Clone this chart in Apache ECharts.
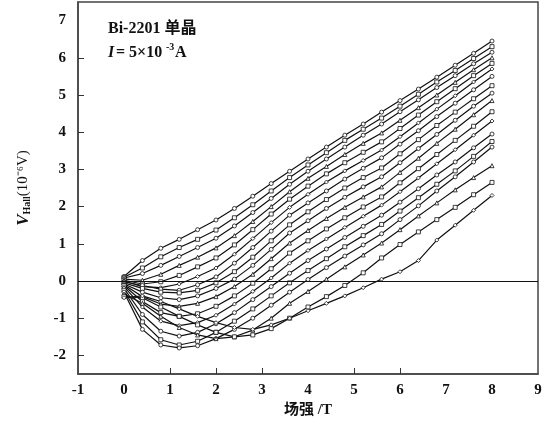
<!DOCTYPE html>
<html>
<head>
<meta charset="utf-8">
<script src="https://cdn.jsdelivr.net/npm/echarts@6/dist/echarts.min.js"></script>
<style>
  html, body { margin: 0; padding: 0; background: #fff; }
  #chart { width: 555px; height: 426px; }
</style>
</head>
<body>
<div id="chart"></div>
<script>
// Magnetic field values (T) shared by every isotherm
const fieldT = [0, 0.4, 0.8, 1.2, 1.6, 2.0, 2.4, 2.8, 3.2, 3.6, 4.0, 4.4, 4.8, 5.2, 5.6, 6.0, 6.4, 6.8, 7.2, 7.6, 8.0];

// Hall voltage (10^-6 V), one array per temperature, warmest first
const curve01 = [0.12, 0.55, 0.88, 1.12, 1.38, 1.64, 1.95, 2.28, 2.62, 2.95, 3.28, 3.60, 3.92, 4.22, 4.54, 4.85, 5.16, 5.48, 5.80, 6.12, 6.45];
const curve02 = [0.10, 0.35, 0.65, 0.90, 1.12, 1.37, 1.70, 2.05, 2.42, 2.78, 3.12, 3.45, 3.78, 4.08, 4.38, 4.70, 5.02, 5.35, 5.66, 5.98, 6.30];
const curve03 = [0.08, 0.20, 0.42, 0.66, 0.90, 1.15, 1.48, 1.84, 2.22, 2.60, 2.95, 3.28, 3.60, 3.92, 4.22, 4.55, 4.87, 5.20, 5.52, 5.84, 6.15];
const curve04 = [0.05, 0.02, 0.18, 0.42, 0.64, 0.89, 1.22, 1.60, 2.00, 2.40, 2.76, 3.08, 3.40, 3.70, 3.98, 4.32, 4.66, 5.00, 5.34, 5.68, 6.00];
const curve05 = [0.02, -0.08, -0.02, 0.15, 0.38, 0.62, 0.97, 1.38, 1.80, 2.20, 2.55, 2.88, 3.18, 3.46, 3.74, 4.10, 4.46, 4.82, 5.17, 5.52, 5.85];
const curve06 = [0.00, -0.15, -0.18, -0.08, 0.12, 0.35, 0.72, 1.14, 1.57, 1.98, 2.33, 2.66, 2.96, 3.24, 3.52, 3.88, 4.25, 4.62, 4.98, 5.35, 5.70];
const curve07 = [-0.02, -0.12, -0.22, -0.25, -0.10, 0.11, 0.48, 0.90, 1.34, 1.77, 2.10, 2.42, 2.74, 3.03, 3.31, 3.68, 4.04, 4.42, 4.78, 5.14, 5.50];
const curve08 = [-0.05, -0.20, -0.30, -0.32, -0.25, -0.05, 0.25, 0.64, 1.08, 1.51, 1.86, 2.19, 2.50, 2.78, 3.04, 3.42, 3.80, 4.18, 4.54, 4.90, 5.25];
const curve09 = [-0.08, -0.30, -0.45, -0.50, -0.40, -0.20, 0.05, 0.42, 0.85, 1.29, 1.62, 1.95, 2.25, 2.53, 2.80, 3.18, 3.56, 3.94, 4.32, 4.70, 5.05];
const curve10 = [-0.10, -0.42, -0.62, -0.68, -0.60, -0.42, -0.15, 0.18, 0.60, 1.02, 1.36, 1.68, 1.98, 2.26, 2.53, 2.92, 3.30, 3.70, 4.08, 4.47, 4.85];
const curve11 = [-0.12, -0.55, -0.85, -0.95, -0.88, -0.68, -0.40, -0.06, 0.33, 0.75, 1.08, 1.40, 1.70, 1.99, 2.26, 2.64, 3.02, 3.40, 3.78, 4.16, 4.55];
const curve12 = [-0.15, -0.70, -1.08, -1.20, -1.12, -0.92, -0.62, -0.28, 0.08, 0.48, 0.82, 1.13, 1.44, 1.74, 2.04, 2.40, 2.77, 3.15, 3.53, 3.92, 4.30];
const curve13 = [-0.20, -0.90, -1.35, -1.48, -1.38, -1.15, -0.85, -0.50, -0.15, 0.21, 0.55, 0.86, 1.17, 1.47, 1.77, 2.12, 2.48, 2.85, 3.20, 3.58, 3.95];
const curve14 = [-0.25, -1.10, -1.58, -1.72, -1.62, -1.38, -1.08, -0.75, -0.40, -0.05, 0.28, 0.60, 0.92, 1.22, 1.52, 1.88, 2.24, 2.60, 2.96, 3.35, 3.75];
const curve15 = [-0.30, -1.30, -1.72, -1.80, -1.74, -1.55, -1.30, -1.00, -0.65, -0.30, 0.04, 0.36, 0.67, 0.97, 1.27, 1.65, 2.02, 2.42, 2.80, 3.20, 3.60];
const curve16 = [-0.35, -0.60, -0.95, -1.25, -1.45, -1.55, -1.50, -1.32, -1.00, -0.60, -0.28, 0.05, 0.38, 0.70, 1.02, 1.38, 1.75, 2.10, 2.45, 2.78, 3.10];
const curve17 = [-0.42, -0.45, -0.70, -0.95, -1.18, -1.38, -1.50, -1.45, -1.28, -1.00, -0.70, -0.42, -0.12, 0.22, 0.62, 0.98, 1.32, 1.65, 1.98, 2.32, 2.65];
const curve18 = [-0.45, -0.40, -0.55, -0.75, -0.95, -1.12, -1.25, -1.30, -1.18, -1.00, -0.80, -0.60, -0.40, -0.18, 0.05, 0.25, 0.55, 1.10, 1.50, 1.90, 2.30];

const curves = [curve01, curve02, curve03, curve04, curve05, curve06, curve07, curve08, curve09,
                curve10, curve11, curve12, curve13, curve14, curve15, curve16, curve17, curve18];

// Axis tick values
const xTicks = [-1, 0, 1, 2, 3, 4, 5, 6, 7, 8, 9];
const xTickMarks = [1, 2, 3, 5, 6];
const yTicks = [-2, -1, 0, 1, 2, 3, 4, 5, 6, 7];
const yTickMarks = [-2, -1, 0, 1, 2, 3, 4, 5, 6];

const markerShapes = ['circle', 'rect', 'circle', 'triangle', 'rect', 'diamond'];
const serif = '"Liberation Serif", "Times New Roman", "Noto Sans CJK SC", serif';

const series = curves.map((vals, i) => ({
  type: 'line',
  data: fieldT.map((b, j) => [b, vals[j]]),
  symbol: markerShapes[i % markerShapes.length],
  symbolSize: 4,
  showSymbol: true,
  lineStyle: { color: '#111', width: 1.2 },
  itemStyle: { color: '#fff', borderColor: '#111', borderWidth: 0.8 },
  z: 3,
  animation: false
}));

// Zero reference line across the whole plot
series.push({
  type: 'line',
  data: [],
  markLine: {
    silent: true,
    symbol: 'none',
    label: { show: false },
    lineStyle: { color: '#111', width: 1, type: 'solid' },
    data: [{ yAxis: 0 }]
  },
  animation: false
});

const chart = echarts.init(document.getElementById('chart'), null, { renderer: 'canvas' });
chart.setOption({
  backgroundColor: '#fff',
  animation: false,
  grid: { left: 78, right: 17, top: 2, bottom: 52, show: true, borderColor: '#444', borderWidth: 1.5, backgroundColor: 'transparent' },
  xAxis: {
    type: 'value', min: -1, max: 9, interval: 1,
    name: '场强 /T', nameLocation: 'middle', nameGap: 28,
    nameTextStyle: { fontFamily: serif, fontSize: 15, fontWeight: 'bold', color: '#111' },
    axisLine: { onZero: false, lineStyle: { color: '#444', width: 1.5 } },
    axisTick: { inside: true, length: 6, customValues: xTickMarks, lineStyle: { color: '#333' } },
    axisLabel: { customValues: xTicks, fontFamily: serif, fontSize: 15, fontWeight: 'bold', color: '#111', margin: 9 },
    splitLine: { show: false }
  },
  yAxis: {
    type: 'value', min: -2.5, max: 7.5,
    name: '{i|V}{s|Hall}(10⁻⁶V)', nameLocation: 'middle', nameGap: 46, nameRotate: 90,
    nameTextStyle: {
      fontFamily: serif, fontSize: 15, color: '#111',
      rich: {
        i: { fontFamily: serif, fontSize: 17, fontStyle: 'italic', fontWeight: 'bold', color: '#111' },
        s: { fontFamily: serif, fontSize: 10, fontWeight: 'bold', color: '#111', verticalAlign: 'bottom', padding: [6, 0, 0, 0] }
      }
    },
    axisLine: { onZero: false, lineStyle: { color: '#444', width: 1.5 } },
    axisTick: { inside: true, length: 6, customValues: yTickMarks, lineStyle: { color: '#333' } },
    axisLabel: { customValues: yTicks, fontFamily: serif, fontSize: 15, fontWeight: 'bold', color: '#111', margin: 12 },
    splitLine: { show: false }
  },
  graphic: [
    { type: 'text', left: 108, top: 21, style: { text: 'Bi-2201 单晶', font: 'bold 16px ' + serif, fill: '#111' } },
    { type: 'group', left: 108, top: 42, children: [
      { type: 'text', x: 0, y: 0, style: { text: 'I', font: 'italic bold 16px ' + serif, fill: '#111' } },
      { type: 'text', x: 8, y: 0, style: { text: '= 5×10', font: 'bold 16px ' + serif, fill: '#111' } },
      { type: 'text', x: 58, y: -3, style: { text: '-3', font: 'bold 10px ' + serif, fill: '#111' } },
      { type: 'text', x: 67, y: 0, style: { text: 'A', font: 'bold 16px ' + serif, fill: '#111' } }
    ] }
  ],
  series: series
});
</script>
</body>
</html>
